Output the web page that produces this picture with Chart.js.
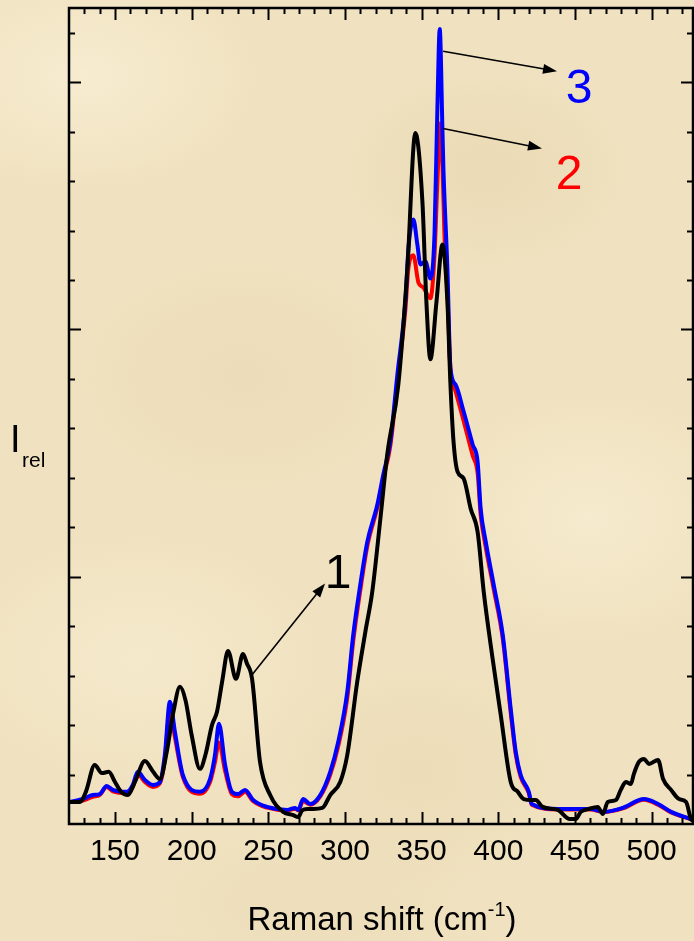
<!DOCTYPE html>
<html>
<head>
<meta charset="utf-8">
<title>Raman spectra</title>
<script src="https://cdn.jsdelivr.net/npm/chart.js@4.4.1/dist/chart.umd.min.js"></script>
<style>
  html, body { margin: 0; padding: 0; }
  body {
    width: 694px; height: 941px; overflow: hidden;
    background-color: #f0e2c0;
    background-image:
      radial-gradient(ellipse 180px 120px at 12% 8%, rgba(250,240,215,0.7), transparent),
      radial-gradient(ellipse 160px 110px at 70% 18%, rgba(228,208,168,0.45), transparent),
      radial-gradient(ellipse 200px 140px at 35% 40%, rgba(232,212,175,0.45), transparent),
      radial-gradient(ellipse 170px 130px at 85% 55%, rgba(250,240,215,0.6), transparent),
      radial-gradient(ellipse 190px 130px at 20% 70%, rgba(248,238,212,0.6), transparent),
      radial-gradient(ellipse 160px 120px at 60% 82%, rgba(230,210,170,0.4), transparent),
      radial-gradient(ellipse 200px 100px at 45% 96%, rgba(234,216,180,0.5), transparent);
  }
  #wrap { position: absolute; left: 0; top: 0; width: 694px; height: 941px; }
</style>
</head>
<body>
<div id="wrap"><canvas id="chartRaman" width="694" height="941"></canvas></div>
<script>
// Raman spectra of three samples
const shift1 = [120, 127, 131, 136.8, 141.4, 145.9, 150, 154, 158.4, 163, 169.5, 175, 179.3, 184, 188, 192.4, 196, 200, 205.4, 209, 213.3, 216.5, 220, 223.7, 228.9, 233.5, 236, 239.4, 244.6, 251.2, 259.7, 266.2, 269.5, 272, 275.4, 279.3, 285.2, 290.4, 296.9, 301.5, 308, 313.3, 317.8, 323.1, 327.7, 334.8, 340.7, 345.9, 350.5, 353.1, 355.7, 359.7, 363.6, 366.8, 368.8, 370.8, 373.4, 377.4, 382, 386.5, 390.5, 396.3, 401.6, 408.1, 412.7, 416.6, 421.8, 424.4, 429, 438.8, 446.6, 450.5, 453.8, 459, 464.9, 468.2, 471.4, 476.7, 479.9, 483.2, 486.5, 488.4, 491.7, 495, 498.3, 504.2, 507.5, 512.7, 517.9, 522.5, 525.7, 527.6];
const intensity1 = [0.089, 0.089, 0.13, 0.239, 0.206, 0.211, 0.17, 0.13, 0.117, 0.17, 0.255, 0.21, 0.182, 0.3, 0.45, 0.555, 0.5, 0.36, 0.223, 0.28, 0.401, 0.453, 0.58, 0.7, 0.587, 0.688, 0.65, 0.587, 0.251, 0.117, 0.049, 0.036, 0.028, 0.055, 0.061, 0.061, 0.065, 0.117, 0.17, 0.279, 0.575, 0.777, 0.939, 1.235, 1.5, 1.777, 2.247, 2.794, 2.518, 2.113, 1.879, 2.113, 2.344, 2.113, 1.777, 1.547, 1.425, 1.397, 1.275, 1.182, 0.939, 0.668, 0.441, 0.17, 0.13, 0.101, 0.097, 0.097, 0.069, 0.057, 0.02, 0.02, 0.049, 0.061, 0.069, 0.04, 0.089, 0.097, 0.138, 0.17, 0.162, 0.202, 0.251, 0.263, 0.243, 0.259, 0.182, 0.138, 0.101, 0.089, 0.02, 0.012];

const shift2 = [120, 129, 135.5, 140.1, 144.6, 148.6, 157.7, 161.6, 164.9, 169.5, 174.7, 179.3, 182.5, 185.8, 189.1, 194.3, 205.4, 212, 215.2, 217.8, 221.8, 226.3, 230.3, 234.8, 240.1, 249.2, 262.3, 267.5, 269.5, 272.7, 277.3, 283.9, 290.4, 295.6, 301.5, 305.4, 310, 314.6, 321.1, 325, 329.6, 334.2, 339.4, 341.4, 344.6, 347.9, 351.1, 355.7, 358.4, 360.3, 362.3, 363.9, 364.8, 366.8, 368.8, 372.1, 377.4, 383.3, 386.5, 388.5, 391.8, 397, 402.9, 408.1, 411.4, 414.6, 419.9, 421.8, 438.8, 460.3, 468.8, 481.2, 495, 504.2, 512.7, 525.7];
const intensity2 = [0.089, 0.095, 0.11, 0.118, 0.15, 0.132, 0.125, 0.15, 0.2, 0.17, 0.15, 0.165, 0.26, 0.46, 0.35, 0.19, 0.122, 0.17, 0.25, 0.33, 0.215, 0.12, 0.112, 0.13, 0.092, 0.066, 0.055, 0.062, 0.055, 0.092, 0.078, 0.112, 0.2, 0.315, 0.51, 0.74, 0.945, 1.125, 1.28, 1.4, 1.53, 1.79, 2.08, 2.25, 2.3, 2.19, 2.17, 2.126, 2.3, 2.6, 2.834, 2.6, 2.4, 2.15, 1.84, 1.75, 1.63, 1.49, 1.42, 1.25, 1.12, 0.95, 0.75, 0.45, 0.28, 0.19, 0.125, 0.078, 0.059, 0.059, 0.048, 0.063, 0.098, 0.078, 0.047, 0.019];

const shift3 = [120, 129, 135.5, 140.1, 144.6, 148.6, 157.7, 161.6, 164.9, 169.5, 174.7, 179.3, 182.5, 185.8, 189.1, 194.3, 205.4, 212, 215.2, 217.8, 221.8, 226.3, 230.3, 234.8, 240.1, 249.2, 262.3, 267.5, 269.5, 272.7, 277.3, 283.9, 290.4, 295.6, 301.5, 305.4, 310, 314.6, 321.1, 325, 329.6, 334.2, 339.4, 341.4, 344.6, 347.2, 349.2, 352.5, 355.7, 358.4, 360.3, 361.8, 363.6, 364.2, 366.8, 368.8, 372.1, 377.4, 383.3, 386.5, 388.5, 391.8, 397, 402.9, 408.1, 411.4, 414.6, 419.9, 421.8, 438.8, 460.3, 468.8, 481.2, 495, 504.2, 512.7, 525.7];
const intensity3 = [0.089, 0.101, 0.117, 0.121, 0.154, 0.138, 0.13, 0.158, 0.211, 0.178, 0.158, 0.17, 0.279, 0.494, 0.372, 0.198, 0.13, 0.182, 0.279, 0.405, 0.239, 0.13, 0.121, 0.138, 0.097, 0.069, 0.057, 0.065, 0.057, 0.101, 0.081, 0.117, 0.211, 0.332, 0.534, 0.765, 0.968, 1.142, 1.291, 1.413, 1.547, 1.818, 2.113, 2.328, 2.445, 2.344, 2.263, 2.275, 2.206, 2.385, 2.9, 3.215, 2.8, 2.652, 2.247, 1.842, 1.777, 1.668, 1.534, 1.466, 1.275, 1.142, 0.968, 0.765, 0.466, 0.291, 0.198, 0.13, 0.081, 0.061, 0.061, 0.049, 0.065, 0.101, 0.081, 0.049, 0.02];

const xMajorTicks = [150, 200, 250, 300, 350, 400, 450, 500];
const xMinorStep = 10;
const yMajorTicks = [0, 1, 2, 3];
const yMinorStep = 0.2;

// curve labels and arrows, in data units: [label, colour, labelX, labelY, fromX, fromY, toX, toY]
const curveLabels = [
  ['1', '#000000', 295.5, 0.953, 239.4, 0.604, 287.0, 0.973],
  ['2', '#ff0000', 446.2, 2.570, 364.0, 2.813, 428.5, 2.732],
  ['3', '#0000ff', 452.7, 2.915, 364.0, 3.125, 438.3, 3.044]
];

const FONT = "'Liberation Sans', Arial, sans-serif";

function toPoints(xs, ys) {
  return xs.map((x, i) => ({ x, y: ys[i] }));
}

// frame with inward ticks, arrows and text labels
const framePlugin = {
  id: 'frame',
  afterDatasetsDraw(chart) {
    const { ctx, chartArea: a, scales: { x, y } } = chart;
    ctx.save();
    ctx.strokeStyle = '#000';
    ctx.lineWidth = 2.5;
    ctx.strokeRect(a.left, a.top, a.right - a.left, a.bottom - a.top);

    ctx.lineWidth = 2;
    ctx.beginPath();
    for (let v = 130; v <= 526; v += xMinorStep) {
      const px = Math.round(x.getPixelForValue(v)) + 0.5;
      const len = xMajorTicks.includes(v) ? 12 : 6;
      ctx.moveTo(px, a.bottom); ctx.lineTo(px, a.bottom - len);
      ctx.moveTo(px, a.top); ctx.lineTo(px, a.top + len);
    }
    for (let k = 1; k * yMinorStep <= 3.3; k++) {
      const v = +(k * yMinorStep).toFixed(2);
      const py = Math.round(y.getPixelForValue(v)) + 0.5;
      const len = yMajorTicks.includes(v) ? 12 : 6;
      ctx.moveTo(a.left, py); ctx.lineTo(a.left + len, py);
      ctx.moveTo(a.right, py); ctx.lineTo(a.right - len, py);
    }
    ctx.stroke();

    // arrows to curves
    curveLabels.forEach(([txt, col, lx, ly, fx, fy, tx, ty]) => {
      const x0 = x.getPixelForValue(fx), y0 = y.getPixelForValue(fy);
      const x1 = x.getPixelForValue(tx), y1 = y.getPixelForValue(ty);
      const ang = Math.atan2(y1 - y0, x1 - x0);
      ctx.strokeStyle = '#000';
      ctx.fillStyle = '#000';
      ctx.lineWidth = 1.6;
      ctx.beginPath();
      ctx.moveTo(x0, y0);
      ctx.lineTo(x1 - 10 * Math.cos(ang), y1 - 10 * Math.sin(ang));
      ctx.stroke();
      ctx.beginPath();
      ctx.moveTo(x1, y1);
      ctx.lineTo(x1 - 14 * Math.cos(ang) + 5 * Math.sin(ang), y1 - 14 * Math.sin(ang) - 5 * Math.cos(ang));
      ctx.lineTo(x1 - 14 * Math.cos(ang) - 5 * Math.sin(ang), y1 - 14 * Math.sin(ang) + 5 * Math.cos(ang));
      ctx.closePath();
      ctx.fill();

      ctx.fillStyle = col;
      ctx.font = `48px ${FONT}`;
      ctx.textAlign = 'center';
      ctx.textBaseline = 'alphabetic';
      ctx.fillText(txt, x.getPixelForValue(lx), y.getPixelForValue(ly));
    });

    // axis titles
    ctx.fillStyle = '#000';
    ctx.textAlign = 'left';
    ctx.textBaseline = 'alphabetic';
    const big = `33px ${FONT}`, small = `20px ${FONT}`;
    ctx.font = big;
    const w1 = ctx.measureText('Raman shift (cm').width;
    const w3 = ctx.measureText(')').width;
    ctx.font = small;
    const w2 = ctx.measureText('-1').width;
    let tx0 = (a.left + a.right) / 2 + 1 - (w1 + w2 + w3) / 2;
    const base = 930;
    ctx.font = big;
    ctx.fillText('Raman shift (cm', tx0, base);
    ctx.font = small;
    ctx.fillText('-1', tx0 + w1, base - 14);
    ctx.font = big;
    ctx.fillText(')', tx0 + w1 + w2, base);

    ctx.font = `38px ${FONT}`;
    ctx.fillText('I', 10, 452);
    ctx.font = `21px ${FONT}`;
    ctx.fillText('rel', 22, 467);
    ctx.restore();
  }
};

const lineStyle = { borderWidth: 4, pointRadius: 0, fill: false, cubicInterpolationMode: 'monotone' };

// lower "order" is painted on top: black over blue over red
new Chart(document.getElementById('chartRaman'), {
  type: 'line',
  data: {
    datasets: [
      { label: '2', data: toPoints(shift2, intensity2), borderColor: '#ff0000', order: 3, ...lineStyle },
      { label: '3', data: toPoints(shift3, intensity3), borderColor: '#0000ff', order: 2, ...lineStyle },
      { label: '1', data: toPoints(shift1, intensity1), borderColor: '#000000', order: 1, ...lineStyle }
    ]
  },
  options: {
    responsive: false,
    animation: false,
    devicePixelRatio: 1,
    layout: { padding: { left: 69, right: 1, top: 8, bottom: 61 } },
    plugins: { legend: { display: false }, tooltip: { enabled: false } },
    scales: {
      x: {
        type: 'linear', min: 120, max: 527,
        grid: { display: false, drawTicks: false },
        border: { display: false },
        ticks: { font: { family: FONT, size: 30 }, color: '#000', padding: 10, maxRotation: 0, autoSkip: false },
        afterBuildTicks: s => { s.ticks = xMajorTicks.map(v => ({ value: v })); }
      },
      y: { display: false, min: 0, max: 3.3 }
    }
  },
  plugins: [framePlugin]
});
</script>
</body>
</html>
